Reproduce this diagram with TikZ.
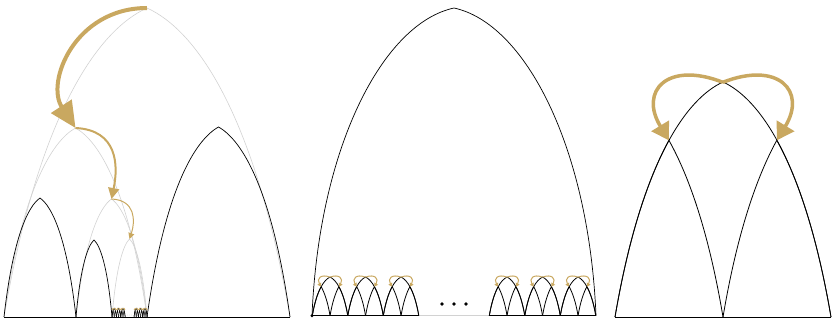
\documentclass[tikz,border=0pt]{standalone}
\usetikzlibrary{arrows.meta}
\definecolor{hopgold}{HTML}{C9A860}
\definecolor{ghostgrey}{HTML}{D2D2D2}
% Bogenprofil: Kontrollpunkte einer Bogenhaelfte (normiert)
\newcommand{\bogAx}{0.25}
\newcommand{\bogAy}{0.67}
\newcommand{\bogBx}{0.667}
\newcommand{\bogBy}{0.93}
% \bogen[stil]{x0}{y0}{breite}{hoehe}
\newcommand{\bogen}[5][archline]{%
  \draw[#1] (#2,#3)
    .. controls +({\bogAx*#4/2},{\bogAy*#5}) and +({-(1-\bogBx)*#4/2},{-(1-\bogBy)*#5}) .. ({#2+#4/2},{#3+#5})
    .. controls +({(1-\bogBx)*#4/2},{-(1-\bogBy)*#5}) and +({-\bogAx*#4/2},{\bogAy*#5}) .. ({#2+#4},#3);}
\tikzset{
  archline/.style={draw=black, line width=0.7pt},
  ghost/.style={draw=ghostgrey, line width=0.6pt},
  hop/.style={draw=hopgold},
  hopA/.style={hop, line width=4pt, -{Triangle[length=26pt, width=24pt]}},
  hopB/.style={hop, line width=2pt, -{Triangle[length=11pt, width=11pt]}},
  hopC/.style={hop, line width=1pt, -{Triangle[length=6pt, width=6pt]}},
  hopD/.style={hop, line width=3.5pt, -{Triangle[length=17pt, width=20pt]}},
  hopE/.style={hop, line width=1pt, -{Triangle[length=3.6pt, width=4.2pt]}},
  hopF/.style={hop, line width=0.5pt, -{Triangle[length=1.5pt, width=1.8pt]}},
  twin/.pic={
    \coordinate (-top) at (0.5,1.088);
    \coordinate (-left) at (0.25,0.819);
    \coordinate (-right) at (0.75,0.819);
    \draw[archline] (0,0) -- (1,0);
    \bogen{0}{0}{1}{1.088}
    \draw[archline] (0,0) .. controls (0.066,0.386) and (0.156,0.647) .. (-left)
      .. controls (0.345,0.647) and (0.435,0.386) .. (0.5,0);
    \draw[archline] (1,0) .. controls (0.934,0.386) and (0.844,0.647) .. (-right)
      .. controls (0.655,0.647) and (0.565,0.386) .. (0.5,0);
    \draw[#1] (-top) .. controls +(-0.255,0.1) and +(-0.14,0.23) .. (-left);
    \draw[#1] (-top) .. controls +(0.255,0.1) and +(0.14,0.23) .. (-right);
  }
}
\begin{document}
\begin{tikzpicture}[x=1pt, y=1pt]
  \useasboundingbox (0,0) rectangle (832,322);

  % linkes Feld
  \coordinate (a0) at (147,314);
  \coordinate (a1) at (75.5,194);
  \coordinate (a2) at (111.5,123);
  \coordinate (a3) at (129.5,83);
  \bogen[ghost]{4}{5}{286}{309}
  \bogen[ghost]{4}{5}{143}{189}
  \bogen[ghost]{76}{5}{71}{118}
  \bogen[ghost]{112}{5}{35}{78}
  \bogen{4}{5}{72}{119}
  \bogen{76}{5}{36}{77}
  \bogen{147}{5}{143}{190}
  \draw[archline] (4,5) -- (290,5);
  \foreach \u in {112,116.4,120.8,134,138.4,142.8}
    \pic[xscale=4.4, yscale=8, archline/.append style={line width=0.5pt}] at (\u,5) {twin=hopF};
  \foreach \u in {127.6,129.5,131.4}
    \fill[ghostgrey] (\u,7) circle (0.4);
  \draw[hopA] (a0) .. controls +(-72,0) and +(-30,46) .. (a1);
  \draw[hopB] (a1) .. controls +(42,-2) and +(7,34) .. (a2);
  \draw[hopC] (a2) .. controls +(24,-1) and +(6,18) .. (a3);

  % mittleres Feld
  \draw[ghost] (312,6.3) -- (596,6.3);
  \begin{scope}
    \renewcommand{\bogAx}{0.05}\renewcommand{\bogAy}{0.55}
    \renewcommand{\bogBx}{0.5}\renewcommand{\bogBy}{0.95}
    \bogen{312}{6.3}{284}{307.7}
  \end{scope}
  \fill (312,6.3) circle (1.6);
  \foreach \u in {312.3,347.8,383.3,489.3,524.8,560.3}
    \pic[scale=35.5, archline/.append style={line width=0.8pt}] at (\u,6.3) {twin=hopE};
  \foreach \u in {442,454,466}
    \fill (\u,18) circle (1.8);

  % rechtes Feld
  \pic[scale=216, archline/.append style={line width=0.8pt}] at (615,5) {twin=hopD};
\end{tikzpicture}
\end{document}
